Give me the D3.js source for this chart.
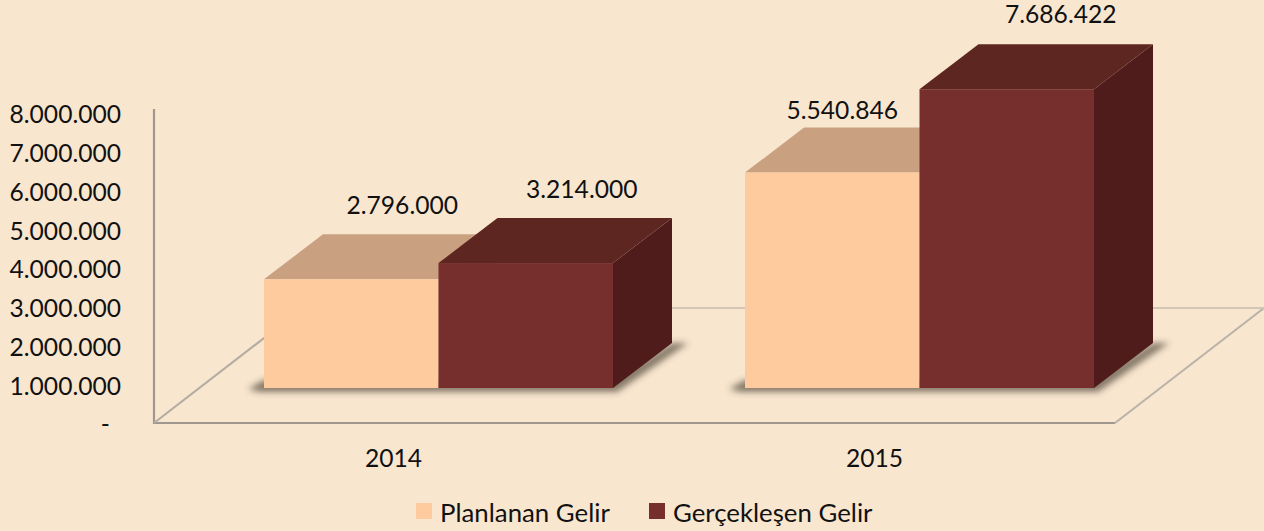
<!DOCTYPE html>
<html>
<head>
<meta charset="utf-8">
<script src="https://cdn.jsdelivr.net/npm/d3@7"></script>
<style>
  html, body { margin: 0; padding: 0; background: #F8E6CF; }
  svg { display: block; }
  text { font-family: Lato, "Open Sans", sans-serif; fill: #111; }
</style>
</head>
<body>
<div id="chart"></div>
<script>
// ========================================
// Data
// ========================================
const years = ['2014', '2015'];
const seriesNames = ['Planlanan Gelir', 'Gerçekleşen Gelir'];
const planned = [2796000, 5540846];
const actual = [3214000, 7686422];
const axisTicks = [0, 1000000, 2000000, 3000000, 4000000, 5000000, 6000000, 7000000, 8000000];

// ========================================
// Dimensions and colours
// ========================================
const width = 1264, height = 531;
const depthX = 59, depthY = 45;       // oblique offset of the 3D boxes
const fontSize = 24.6;
const legendFontSize = 25.8;
const colors = [
  { front: '#FDCB9E', top: '#C9A080', side: '#A98560' },
  { front: '#772F2E', top: '#5E2621', side: '#4F1C1B' }
];

const fmt = v => v === 0 ? '-' : d3.format(',')(v).replace(/,/g, '.');

const svg = d3.select('#chart').append('svg')
  .attr('width', width)
  .attr('height', height);

const defs = svg.append('defs');
defs.append('filter').attr('id', 'shadowBlur')
  .attr('x', '-10%').attr('y', '-30%').attr('width', '120%').attr('height', '160%')
  .append('feGaussianBlur').attr('stdDeviation', 3.2);
defs.append('filter').attr('id', 'softEdge')
  .attr('x', '-2%').attr('y', '-2%').attr('width', '104%').attr('height', '104%')
  .append('feGaussianBlur').attr('stdDeviation', 0.5);

// ========================================
// Scales
// ========================================
const x0 = d3.scaleBand().domain(years).range([264, 1094]).paddingInner(132 / 481).paddingOuter(0);
const x1 = d3.scaleBand().domain(seriesNames).range([0, x0.bandwidth()]);
const y = d3.scaleLinear().domain([0, 8000000]).range([388, 77]);      // front face of the bars
const yAxisScale = d3.scaleLinear().domain([0, 8000000]).range([425, 115]);  // printed tick labels

// ========================================
// Floor and walls
// ========================================
const floor = svg.append('g').attr('fill', 'none').attr('filter', 'url(#softEdge)');
floor.append('path').attr('d', 'M154,109V423H1115').attr('stroke', '#A0988F').attr('stroke-width', 2.2);
floor.append('path').attr('d', 'M154,423L303,308').attr('stroke', '#B5ADA3').attr('stroke-width', 2.2);
floor.append('path').attr('d', 'M1115,423L1264,308').attr('stroke', '#BBB3A9').attr('stroke-width', 2.2);
floor.append('path').attr('d', 'M303,308H1264').attr('stroke', '#D3C6B4').attr('stroke-width', 2.2);

// ========================================
// Axis labels
// ========================================
const yAxis = svg.append('g')
  .attr('transform', 'translate(121,0)')
  .call(d3.axisLeft(yAxisScale).tickValues(axisTicks).tickFormat(fmt).tickSize(0).tickPadding(0));
yAxis.select('.domain').remove();
yAxis.selectAll('text').attr('font-size', fontSize).attr('font-family', null);
yAxis.selectAll('.tick').filter(d => d === 0).select('text').attr('dx', -11);

const xAxis = svg.append('g')
  .attr('transform', 'translate(-45,450)')
  .call(d3.axisBottom(x0).tickSize(0).tickPadding(0));
xAxis.select('.domain').remove();
xAxis.selectAll('text').attr('font-size', fontSize).attr('font-family', null);

// ========================================
// Bars: one box per series, planned first so actual sits over it
// ========================================
const rows = [];
years.forEach((year, i) => {
  rows.push({ year, name: seriesNames[0], value: planned[i], s: 0 });
  rows.push({ year, name: seriesNames[1], value: actual[i], s: 1 });
});

const shadowColor = '#4A3E30';
const shadows = svg.append('g').attr('filter', 'url(#shadowBlur)');
years.forEach(year => {
  const left = x0(year), right = x0(year) + x0.bandwidth(), base = y(0);
  shadows.append('path')
    .attr('d', `M${left - 16},${base + 1}L${left},${base - 8}H${right}L${right + depthX},${base - depthY}`
      + `H${right + depthX + 16}L${right + 4},${base + 4}H${left - 4}Z`)
    .attr('fill', shadowColor)
    .attr('opacity', 0.65);
});

const boxes = svg.selectAll('.box').data(rows).enter().append('g').attr('class', 'box');

boxes.each(function (d) {
  const g = d3.select(this);
  const left = x0(d.year) + x1(d.name), right = left + x1.bandwidth();
  const top = y(d.value), base = y(0);
  g.append('path')
    .attr('d', `M${right},${top}L${right + depthX},${top - depthY}V${base - depthY}L${right},${base}Z`)
    .attr('fill', colors[d.s].side);
  g.append('path')
    .attr('d', `M${left},${top}L${left + depthX},${top - depthY}H${right + depthX}L${right},${top}Z`)
    .attr('fill', colors[d.s].top);
  g.append('rect')
    .attr('x', left).attr('y', top)
    .attr('width', x1.bandwidth()).attr('height', base - top)
    .attr('fill', colors[d.s].front);
});

// ========================================
// Value labels, above the back edge of each box
// ========================================
const labelNudge = { 'Planlanan Gelir2014': [51, -20], 'Gerçekleşen Gelir2014': [56, -20],
  'Planlanan Gelir2015': [10, -9], 'Gerçekleşen Gelir2015': [54, -21] };

svg.selectAll('.value').data(rows).enter().append('text')
  .attr('class', 'value')
  .attr('x', d => x0(d.year) + x1(d.name) + x1.bandwidth() / 2 + labelNudge[d.name + d.year][0])
  .attr('y', d => y(d.value) - depthY + labelNudge[d.name + d.year][1])
  .attr('text-anchor', 'middle')
  .attr('font-size', fontSize)
  .text(d => fmt(d.value));

// ========================================
// Legend
// ========================================
const legendX = [416, 649];
const legend = svg.selectAll('.legend').data(seriesNames).enter().append('g')
  .attr('class', 'legend')
  .attr('transform', (d, i) => `translate(${legendX[i]},503)`);
legend.append('rect')
  .attr('width', 16).attr('height', 16)
  .attr('fill', (d, i) => colors[i].front);
legend.append('text')
  .attr('x', 24).attr('y', 19)
  .attr('font-size', legendFontSize)
  .text(d => d);
</script>
</body>
</html>
